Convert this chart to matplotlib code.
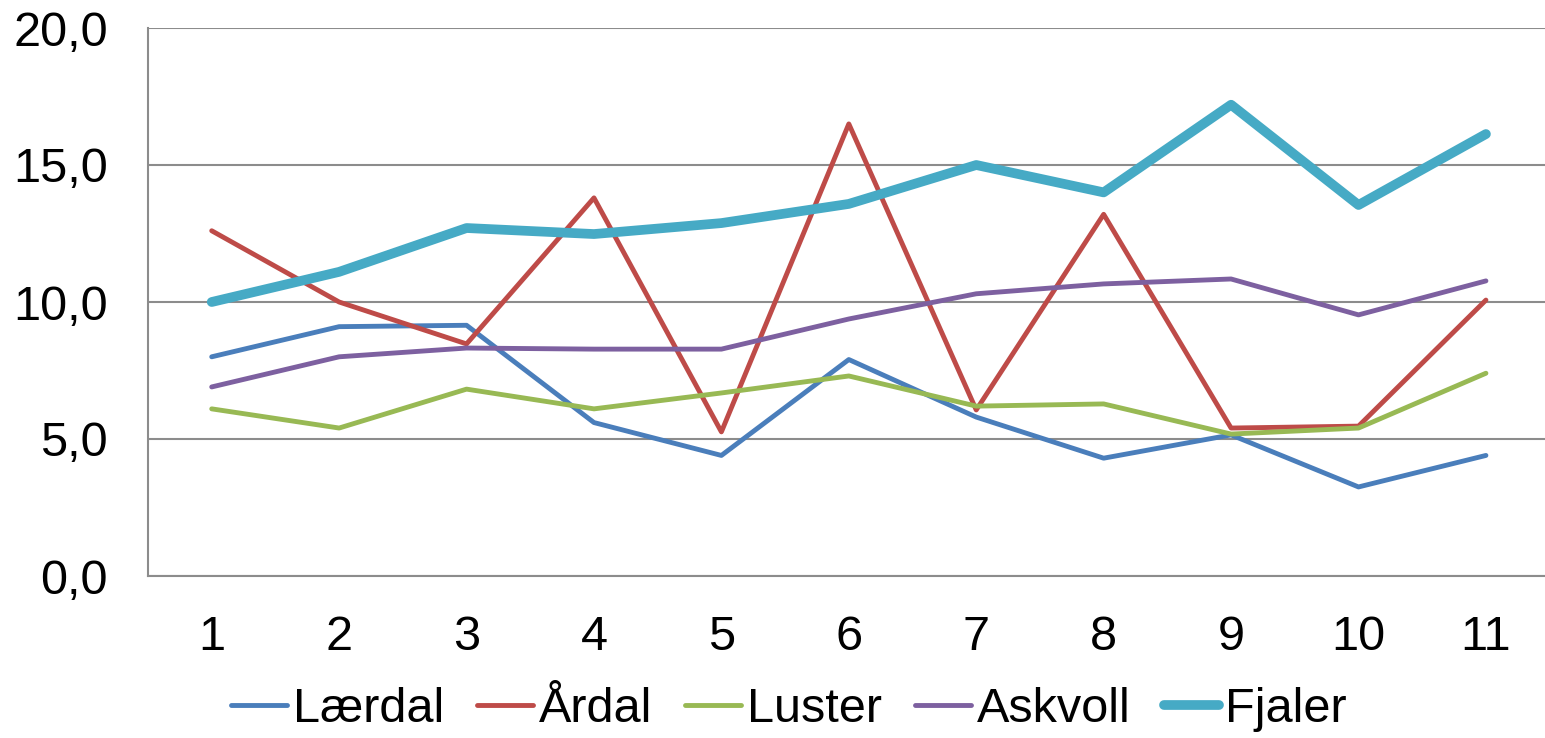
import matplotlib.pyplot as plt

plt.rcParams['font.family'] = ['Liberation Sans', 'DejaVu Sans']

# x categories
periods = [1, 2, 3, 4, 5, 6, 7, 8, 9, 10, 11]

# series values
laerdal = [8.0, 9.1, 9.15, 5.6, 4.4, 7.9, 5.8, 4.3, 5.15, 3.25, 4.4]
aardal = [12.6, 10.0, 8.47, 13.8, 5.26, 16.5, 6.06, 13.2, 5.4, 5.47, 10.07]
luster = [6.1, 5.4, 6.82, 6.1, 6.68, 7.3, 6.2, 6.28, 5.18, 5.4, 7.4]
askvoll = [6.9, 8.0, 8.32, 8.28, 8.28, 9.38, 10.3, 10.66, 10.84, 9.53, 10.77]
fjaler = [10.0, 11.1, 12.7, 12.48, 12.88, 13.58, 15.0, 14.0, 17.2, 13.54, 16.13]

y_ticks = [0, 5, 10, 15, 20]
y_labels = ['0,0', '5,0', '10,0', '15,0', '20,0']

fig = plt.figure(figsize=(15.45, 7.38), dpi=100)
ax = fig.add_axes([148 / 1545, 1 - 576 / 738, 1 - 148 / 1545 + 0.003, 548 / 738])

# Lines
ax.plot(periods, laerdal, color='#4a7ebb', lw=3.5, label='Lærdal', solid_capstyle='round')
ax.plot(periods, aardal, color='#be4b48', lw=3.5, label='Årdal', solid_capstyle='round')
ax.plot(periods, luster, color='#98b954', lw=3.5, label='Luster', solid_capstyle='round')
ax.plot(periods, askvoll, color='#7d60a0', lw=3.5, label='Askvoll', solid_capstyle='round')
ax.plot(periods, fjaler, color='#46aac5', lw=7, label='Fjaler', solid_capstyle='round')

ax.set_xlim(0.5, 11.5)
ax.set_ylim(0, 20)
ax.set_xticks(periods)
ax.set_yticks(y_ticks)
ax.set_yticklabels(y_labels)
ax.tick_params(length=0, labelsize=35)
ax.tick_params(axis='y', pad=29)
ax.tick_params(axis='x', pad=28)
ax.yaxis.grid(True, color='#8c8c8c', lw=1.5)
ax.set_axisbelow(True)

for side in ['top', 'right']:
    ax.spines[side].set_visible(False)
for side in ['left', 'bottom']:
    ax.spines[side].set_color('#8c8c8c')
    ax.spines[side].set_linewidth(1.5)

fig.legend(loc='center', bbox_to_anchor=(789 / 1545, 1 - 710 / 738), ncol=5, frameon=False,
           fontsize=35, handlelength=1.15, handletextpad=0.12, columnspacing=0.68,
           borderaxespad=0, borderpad=0)

fig.savefig('out.png', dpi=100)
